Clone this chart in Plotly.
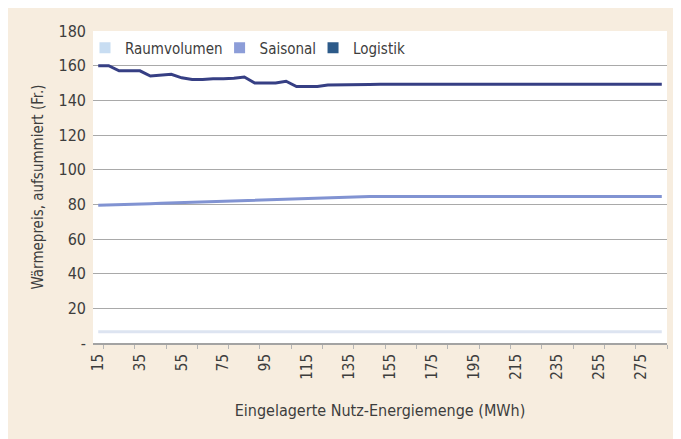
import plotly.graph_objects as go

# Eingelagerte Nutz-Energiemenge (MWh)
energie = list(range(15, 290, 5))  # 15 .. 285

# cumulative (aufsummiert) prices in Fr.
raumvolumen = [6.5] * len(energie)

saisonal = [79.5, 79.6, 79.8, 80.0, 80.3, 80.4, 80.6, 80.8, 81.1, 81.3,
            81.5, 81.7, 82.0, 82.1, 82.3, 82.6, 82.9, 83.0, 83.2, 83.4,
            83.6, 83.8, 84.0, 84.2, 84.4, 84.5] + [84.5] * 29

logistik = [160.0, 160.0, 157.0, 157.0, 157.0, 154.0, 154.5, 155.0, 153.0, 152.0,
            152.0, 152.5, 152.5, 152.7, 153.5, 150.0, 150.0, 150.0, 151.0, 148.0,
            148.0, 148.0, 148.8, 148.8, 148.8, 148.8, 149.2] + [149.3] * 28

series_names = ["Raumvolumen", "Saisonal", "Logistik"]
line_colors = ["#dde4f1", "#8193d2", "#363f84"]
legend_colors = ["#c8ddf2", "#8c9dd8", "#2c5a89"]

y_ticks = [0, 20, 40, 60, 80, 100, 120, 140, 160, 180]
y_ticktext = ["-", "20", "40", "60", "80", "100", "120", "140", "160", "180"]
x_ticks = list(range(15, 276, 20))

FONT = "Liberation Sans Narrow, DejaVu Sans Condensed, Roboto, sans-serif"
TXT = "#3d3d3d"

fig = go.Figure()
for name, vals, col in zip(series_names, [raumvolumen, saisonal, logistik], line_colors):
    fig.add_trace(go.Scatter(x=energie, y=vals, mode="lines", name=name,
                             line=dict(color=col, width=3), showlegend=False))
for name, col in zip(series_names, legend_colors):
    fig.add_trace(go.Scatter(x=[None], y=[None], mode="markers", name=name,
                             marker=dict(symbol="square", size=11, color=col)))

W, H = 681, 439
L, R, T, B = 85, 22, 23, 104
pw, ph = W - L - R, H - T - B

fig.update_layout(
    width=W, height=H,
    margin=dict(l=L, r=R, t=T, b=B),
    paper_bgcolor="#f7eddf",
    plot_bgcolor="#ffffff",
    font=dict(family=FONT, size=15, color=TXT),
    showlegend=True,
    legend=dict(orientation="h", x=0, y=1 - (40 - T) / ph, xanchor="left", yanchor="middle",
                bgcolor="rgba(0,0,0,0)", font=dict(size=15, color=TXT),
                itemwidth=30, indentation=-8, traceorder="normal"),
    xaxis=dict(
        range=[12.5, 287.5], tickmode="array", tickvals=x_ticks, tickangle=-90,
        showgrid=False, zeroline=False, showline=True, linecolor="#a3a3a3", linewidth=2,
        ticks="", ticklabelstandoff=3, tickfont=dict(size=15, color=TXT),
        minor=dict(tick0=17.5, dtick=15, ticks="outside", ticklen=4, tickcolor="#b5b5b5", showgrid=False),
        title=dict(text="Eingelagerte Nutz-Energiemenge (MWh)", standoff=26, font=dict(size=16, color=TXT)),
    ),
    yaxis=dict(
        range=[0, 180], tickmode="array", tickvals=y_ticks, ticktext=y_ticktext,
        showgrid=True, gridcolor="#a9a9a9", gridwidth=1, zeroline=False, showline=False,
        ticks="", ticklabelstandoff=6, tickfont=dict(size=16, color=TXT),
        title=dict(text="Wärmepreis, aufsummiert (Fr.)", standoff=11, font=dict(size=15, color=TXT)),
    ),
)

fig.write_html("out.html")
